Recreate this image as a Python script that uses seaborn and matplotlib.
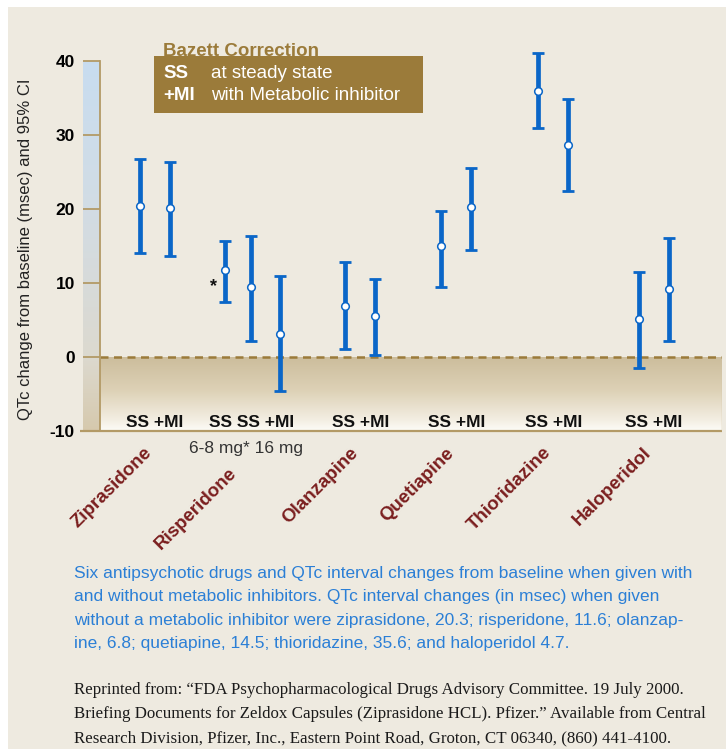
import numpy as np
import pandas as pd
import matplotlib
matplotlib.use("Agg")
import matplotlib.pyplot as plt
import seaborn as sns
from matplotlib.patches import Rectangle
from matplotlib.colors import LinearSegmentedColormap
from matplotlib import font_manager

# data (QTc change, msec, Bazett correction)
drugs = ["Ziprasidone", "Risperidone", "Olanzapine", "Quetiapine", "Thioridazine", "Haloperidol"]
point_drug = ["Ziprasidone", "Ziprasidone",
              "Risperidone", "Risperidone", "Risperidone",
              "Olanzapine", "Olanzapine",
              "Quetiapine", "Quetiapine",
              "Thioridazine", "Thioridazine",
              "Haloperidol", "Haloperidol"]
point_cond = ["SS", "+MI", "SS", "SS", "+MI", "SS", "+MI", "SS", "+MI", "SS", "+MI", "SS", "+MI"]
qtc_mean = [20.4, 20.1, 11.7, 9.5, 3.1, 6.9, 5.6, 15.0, 20.3, 36.0, 28.6, 5.1, 9.2]
ci_low = [14.1, 13.7, 7.5, 2.1, -4.6, 1.1, 0.3, 9.5, 14.5, 30.9, 22.4, -1.5, 2.1]
ci_high = [26.7, 26.4, 15.7, 16.4, 11.0, 12.8, 10.6, 19.7, 25.5, 41.1, 34.8, 11.5, 16.1]
y_ticks = [-10, 0, 10, 20, 30, 40]

caption = ("Six antipsychotic drugs and QTc interval changes from baseline when given with\n"
           "and without metabolic inhibitors. QTc interval changes (in msec) when given\n"
           "without a metabolic inhibitor were ziprasidone, 20.3; risperidone, 11.6; olanzap-\n"
           "ine, 6.8; quetiapine, 14.5; thioridazine, 35.6; and haloperidol 4.7.")
source = ("Reprinted from: \u201cFDA Psychopharmacological Drugs Advisory Committee. 19 July 2000.\n"
          "Briefing Documents for Zeldox Capsules (Ziprasidone HCL). Pfizer.\u201d Available from Central\n"
          "Research Division, Pfizer, Inc., Eastern Point Road, Groton, CT 06340, (860) 441-4100.")

# colours
BG = "#eeeae0"
TAN = "#b39a66"
GOLD = "#9b7b3a"
BLUE = "#0a66c8"
MAROON = "#7b1f1f"
CAPBLUE = "#2b7fd6"

names = {f.name for f in font_manager.fontManager.ttflist}
SANS = "Liberation Sans"
NARROW = "Liberation Sans Narrow" if "Liberation Sans Narrow" in names else "Liberation Sans"
SERIF = "Liberation Serif"
plt.rcParams["font.family"] = [SANS, "DejaVu Sans"]

W, H = 726, 749


def fx(x):
    return x / W


def fy(y):
    return 1 - y / H


# x positions: group centres and offsets inside each group
group_pos = {"Ziprasidone": 0.0, "Risperidone": 0.98, "Olanzapine": 2.06,
             "Quetiapine": 3.02, "Thioridazine": 3.99, "Haloperidol": 5.0}
offsets = {2: [-0.15, 0.15], 3: [-0.276, -0.02, 0.277]}
xs = []
for d in drugs:
    n = point_drug.count(d)
    xs += [group_pos[d] + o for o in offsets[n]]

df = pd.DataFrame({"drug": point_drug, "cond": point_cond, "x": xs,
                   "qtc": qtc_mean, "lo": ci_low, "hi": ci_high})

fig = plt.figure(figsize=(W / 100, H / 100), dpi=100)
fig.patch.set_facecolor("white")
fig.add_artist(Rectangle((fx(8), 0), 1, fy(7), transform=fig.transFigure,
                         facecolor=BG, edgecolor="none", zorder=-5))

ax_l, ax_r, ax_t, ax_b = 100, 722, 61, 431
ax = fig.add_axes([fx(ax_l), fy(ax_b), fx(ax_r - ax_l), (ax_b - ax_t) / H])
ax.set_facecolor("none")
xmin = -0.548
xmax = xmin + (ax_r - ax_l) / 99.86

# tan gradient below zero
below = LinearSegmentedColormap.from_list(
    "below", [(0, "#fdfcf8"), (0.15, "#f3eee2"), (0.55, "#ddd1b6"), (1, "#ccbd9c")])
grad = np.linspace(0, 1, 256).reshape(-1, 1)
ax.imshow(grad, extent=[xmin, xmax, -10, 0], origin="lower", aspect="auto",
          cmap=below, zorder=0)
ax.set_xlim(xmin, xmax)
ax.set_ylim(-10, 40)

# left gradient strip
strip = fig.add_axes([fx(83), fy(ax_b), fx(17), (ax_b - ax_t) / H])
strip_cm = LinearSegmentedColormap.from_list(
    "strip", [(0, "#d6c9ad"), (0.2, "#dcd9cf"), (0.6, "#d2dce4"), (1, "#c8ddf0")])
strip.imshow(grad, extent=[0, 1, 0, 1], origin="lower", aspect="auto", cmap=strip_cm)
strip.set_axis_off()
strip.set_zorder(-1)

# axis lines and ticks
for s in ["top", "right", "bottom"]:
    ax.spines[s].set_visible(False)
ax.spines["left"].set_color(TAN)
ax.spines["left"].set_linewidth(1.3)
ax.set_xticks([])
ax.set_yticks(y_ticks)
ax.set_yticklabels([str(t) for t in y_ticks], fontsize=12.5, fontweight="bold")
ax.tick_params(axis="y", length=0, pad=18)
ytr = ax.get_yaxis_transform()
ax.hlines(y_ticks[1:], -17 / 622, 0, transform=ytr, color=TAN, lw=1.3, clip_on=False)
ax.hlines(-10, -20 / 622, 1, transform=ytr, color=TAN, lw=1.6, clip_on=False)
ax.vlines(xmax, -10, 0, color="#d2c4a6", lw=1)
ax.axhline(0, color=GOLD, lw=1.8, dashes=(3.2, 2.2), zorder=1)

# error bars and points
eb = ax.errorbar(df["x"], df["qtc"], yerr=[df["qtc"] - df["lo"], df["hi"] - df["qtc"]],
                 fmt="none", ecolor=BLUE, elinewidth=3.4, capsize=4.2, capthick=2, zorder=3)
for art in eb.lines[1] + eb.lines[2]:
    art.set_clip_on(False)
sns.scatterplot(data=df, x="x", y="qtc", color="white", edgecolor=BLUE, linewidth=1.1,
                s=30, zorder=4, ax=ax, legend=False, clip_on=False)
ax.set_xlabel("")
ax.set_ylabel("QTc change from baseline (msec) and 95% CI", fontsize=12, color="#222222")
ax.yaxis.set_label_coords(-(100 - 33) / 622, 0.49)

# asterisk next to risperidone 6-8 mg
r0 = df[df["drug"] == "Risperidone"].iloc[0]
ax.annotate("*", xy=(r0["x"], r0["qtc"]), xytext=(-8.6, -12), textcoords="offset points",
            ha="center", va="center", fontsize=13, fontweight="bold", color="#111111")

# condition labels and drug names
for d in drugs:
    sub = df[df["drug"] == d]
    cx = sub["x"].mean()
    ax.text(cx, -8.8, " ".join(sub["cond"]), ha="center", va="center",
            fontsize=12.5, fontweight="bold", color="#111111")
    ny = -14.5 if d == "Risperidone" else -11.8
    nx = group_pos[d] - (0.25 if d == "Risperidone" else 0.11)
    ax.text(nx, ny, d, rotation=45, rotation_mode="anchor",
            ha="right", va="top", fontsize=13.5, fontweight="bold", color=MAROON)

ax.text(group_pos["Risperidone"] - 0.07, -12.3, "6-8 mg* 16 mg", ha="center", va="center",
        fontsize=12.5, color="#333333")

# key box
fig.text(fx(163), fy(51), "Bazett Correction", fontsize=13.5, fontweight="bold",
         color=GOLD, va="center", ha="left", zorder=1)
fig.add_artist(Rectangle((fx(154), fy(113)), fx(423 - 154), (113 - 56) / H,
                         transform=fig.transFigure, facecolor=GOLD, edgecolor="none", zorder=2))
fig.text(fx(163), fy(73), "SS", fontsize=13.5, fontweight="bold", color="white", va="center", zorder=3)
fig.text(fx(211), fy(73), "at steady state", fontsize=13.5, color="white", va="center", zorder=3)
fig.text(fx(163), fy(95), "+MI", fontsize=13.5, fontweight="bold", color="white", va="center", zorder=3)
fig.text(fx(211), fy(95), "with Metabolic inhibitor", fontsize=13.5, color="white", va="center", zorder=3)

# caption and source
fig.text(fx(74), fy(566), caption, family=NARROW, fontsize=15 if NARROW != SANS else 12.5,
         color=CAPBLUE, va="top", ha="left", linespacing=1.7)
fig.text(fx(74), fy(682), source, family=SERIF, fontsize=12.2, color="#1a1a1a",
         va="top", ha="left", linespacing=1.68)

fig.savefig("out.png", dpi=100, facecolor=fig.get_facecolor())
